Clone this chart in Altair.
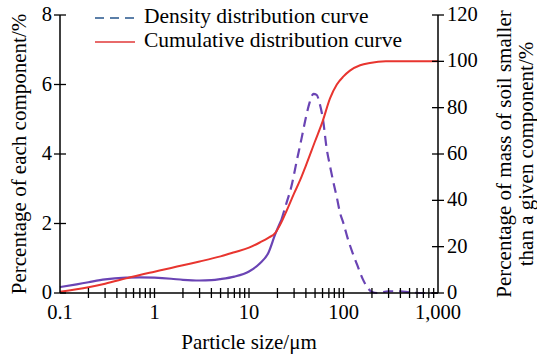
import altair as alt
import pandas as pd

# ---- data ----
size_d = [0.1, 0.15, 0.2, 0.3, 0.5, 0.7, 1, 1.5, 2, 3, 4, 5, 7, 10, 13, 16, 19, 22,
          25, 28, 32, 36, 40, 44, 48, 52, 56, 61, 66, 72, 78, 85, 92, 100, 110, 125,
          140, 160, 180, 200, 230, 300, 400, 500, 700, 1000]
dens = [0.17, 0.25, 0.31, 0.39, 0.44, 0.45, 0.44, 0.41, 0.38, 0.36, 0.37, 0.40, 0.47,
        0.62, 0.85, 1.15, 1.7, 2.1, 2.6, 3.05, 3.8, 4.45, 5.05, 5.5, 5.73, 5.7, 5.45,
        4.95, 4.2, 3.65, 3.2, 2.75, 2.3, 2.0, 1.6, 1.15, 0.8, 0.4, 0.15, 0.03, 0.0,
        0.05, 0.05, 0.02, 0.0, 0.0]
split_size = 22  # density curve drawn solid below, dashed above

size_c = [0.1, 0.2, 0.3, 0.5, 0.7, 1, 1.5, 2, 3, 5, 7, 10, 13, 16, 19, 22, 25, 30, 35,
          40, 50, 60, 72, 85, 100, 117, 150, 190, 280, 400, 1000]
cum = [0.5, 2.5, 4.0, 6.3, 7.8, 9.2, 10.8, 12.0, 13.6, 15.8, 17.6, 19.6, 21.8, 23.8,
       26.0, 30.5, 35.5, 43.0, 49.0, 55.0, 65.5, 74.0, 84.0, 90.0, 93.5, 96.0, 98.3,
       99.3, 100.0, 100.0, 100.0]

x_labels = [0.1, 1, 10, 100, 1000]
x_minor = [0.2, 0.3, 0.4, 0.5, 0.6, 0.7, 0.8, 0.9, 1, 2, 3, 4, 5, 6, 7, 8, 9, 10,
           20, 30, 40, 50, 60, 70, 80, 90, 100, 200, 300, 400, 500, 600, 700, 800, 900]
yl_ticks = [0, 2, 4, 6, 8]
yr_ticks = [0, 20, 40, 60, 80, 100, 120]
legend_labels = ["Density distribution curve", "Cumulative distribution curve"]
x_title = ["Particle size/μm"]
yl_title = ["Percentage of each component/%"]
yr_title = ["Percentage of mass of soil smaller", "than a given component/%"]

# ---- style ----
W, H = 378, 278
FONT = "Liberation Serif"
FS = 20.5
TFS = 21
LFS = 21.5
PURPLE = "#6a44b4"
RED = "#e8352f"

xs = alt.Scale(type="log", domain=[0.1, 1000], nice=False)
yl = alt.Scale(domain=[0, 8], nice=False)
yr = alt.Scale(domain=[0, 120], nice=False)

dens_df = pd.DataFrame({"size": size_d, "dens": dens})
cum_df = pd.DataFrame({"size": size_c, "cum": cum})

Xs = alt.X("size:Q", scale=xs, axis=None)

dens_solid = alt.Chart(dens_df).transform_filter(f"datum.size <= {split_size}").mark_line(
    color=PURPLE, strokeWidth=2.2, interpolate="monotone"
).encode(x=Xs, y=alt.Y("dens:Q", scale=yl, axis=None))

dens_dash = alt.Chart(dens_df).transform_filter(f"datum.size >= {split_size}").mark_line(
    color=PURPLE, strokeWidth=2.2, strokeDash=[10, 6], interpolate="monotone"
).encode(x=Xs, y=alt.Y("dens:Q", scale=yl, axis=None))

cum_line = alt.Chart(cum_df).mark_line(color=RED, strokeWidth=2, interpolate="monotone").encode(
    x=Xs, y=alt.Y("cum:Q", scale=yr, axis=None))

one = pd.DataFrame({"k": [0]})

# axis lines (left, right, bottom)
dom_l = alt.Chart(one).mark_rule(color="black", strokeWidth=1.5).encode(
    x=alt.value(0), y=alt.value(0), y2=alt.value(H))
dom_r = alt.Chart(one).mark_rule(color="black", strokeWidth=1.5).encode(
    x=alt.value(W), y=alt.value(0), y2=alt.value(H))
dom_b = alt.Chart(one).mark_rule(color="black", strokeWidth=1.5).encode(
    x=alt.value(0), x2=alt.value(W), y=alt.value(H))

# tick marks
tick_l = alt.Chart(pd.DataFrame({"tl": yl_ticks})).mark_tick(
    color="black", orient="horizontal", size=12, thickness=1.3, opacity=1).encode(
    y=alt.Y("tl:Q", scale=yl, axis=None), x=alt.value(0))
tick_r = alt.Chart(pd.DataFrame({"tr": yr_ticks})).mark_tick(
    color="black", orient="horizontal", size=12, thickness=1.3, opacity=1).encode(
    y=alt.Y("tr:Q", scale=yr, axis=None), x=alt.value(W))
tick_b = alt.Chart(pd.DataFrame({"tb": x_minor})).mark_tick(
    color="black", orient="vertical", size=10, thickness=1.3, opacity=1).encode(
    x=alt.X("tb:Q", scale=xs, axis=None), y=alt.value(H))

# tick labels
lab_l = alt.Chart(pd.DataFrame({"v": yl_ticks})).mark_text(
    font=FONT, fontSize=FS, align="right", baseline="middle", color="black").encode(
    y=alt.Y("v:Q", scale=yl, axis=None), x=alt.value(-8), text=alt.Text("v:Q", format="d"))
lab_r = alt.Chart(pd.DataFrame({"v": yr_ticks})).mark_text(
    font=FONT, fontSize=FS, align="left", baseline="middle", color="black").encode(
    y=alt.Y("v:Q", scale=yr, axis=None), x=alt.value(W + 9), text=alt.Text("v:Q", format="d"))
lab_b = alt.Chart(pd.DataFrame({"v": x_labels})).mark_text(
    font=FONT, fontSize=FS, align="center", baseline="middle", color="black").encode(
    x=alt.X("v:Q", scale=xs, axis=None), y=alt.value(H + 20), text=alt.Text("v:Q", format=","))

# axis titles
tit_b = alt.Chart(pd.DataFrame({"t": x_title})).mark_text(
    font=FONT, fontSize=TFS, align="center", baseline="middle", color="black").encode(
    text="t:N", x=alt.value(W / 2), y=alt.value(H + 50))
tit_l = alt.Chart(pd.DataFrame({"t": yl_title})).mark_text(
    font=FONT, fontSize=TFS, align="center", baseline="middle", angle=270, color="black").encode(
    text="t:N", x=alt.value(-40), y=alt.value(H / 2))
tit_r1 = alt.Chart(pd.DataFrame({"t": [yr_title[0]]})).mark_text(
    font=FONT, fontSize=TFS, align="center", baseline="middle", angle=270, color="black").encode(
    text="t:N", x=alt.value(W + 67), y=alt.value(H / 2))
tit_r2 = alt.Chart(pd.DataFrame({"t": [yr_title[1]]})).mark_text(
    font=FONT, fontSize=TFS, align="center", baseline="middle", angle=270, color="black").encode(
    text="t:N", x=alt.value(W + 89), y=alt.value(H / 2))

# legend
leg_d = alt.Chart(one).mark_rule(
    color="#5b7fa8", strokeWidth=2.2, strokeDash=[9, 6]).encode(
    x=alt.value(35), x2=alt.value(75), y=alt.value(3))
leg_c = alt.Chart(one).mark_rule(
    color="#e86a6a", strokeWidth=2.2).encode(
    x=alt.value(35), x2=alt.value(75), y=alt.value(27))
leg_t1 = alt.Chart(pd.DataFrame({"label": [legend_labels[0]]})).mark_text(
    font=FONT, fontSize=LFS, align="left", baseline="middle", color="black").encode(
    text="label:N", x=alt.value(84), y=alt.value(2))
leg_t2 = alt.Chart(pd.DataFrame({"label": [legend_labels[1]]})).mark_text(
    font=FONT, fontSize=LFS, align="left", baseline="middle", color="black").encode(
    text="label:N", x=alt.value(84), y=alt.value(26))

chart = alt.layer(
    dens_solid, dens_dash, cum_line, dom_l, dom_r, dom_b,
    lab_l, lab_r, lab_b, tit_b, tit_l, tit_r1, tit_r2, leg_d, leg_c, leg_t1, leg_t2,
    tick_l, tick_r, tick_b
).resolve_scale(y="independent").properties(
    width=W, height=H,
    padding={"left": 60, "top": 15, "right": 99, "bottom": 66},
    autosize=alt.AutoSizeParams(type="none"),
    background="white",
).configure_view(stroke=None)

chart.save("out.html", embed_options={"renderer": "svg", "actions": False})
